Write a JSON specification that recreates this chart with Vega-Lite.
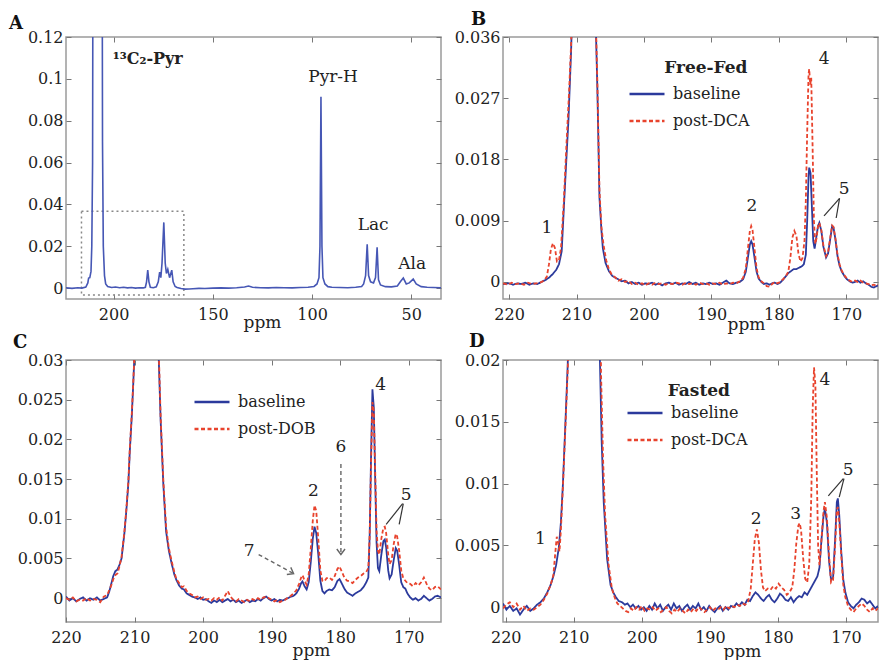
{
"$schema": "https://vega.github.io/schema/vega-lite/v6.json",
"padding": {"left": 8, "top": 10, "right": 0, "bottom": 0},
"background": "white",
"config": {
 "font": "DejaVu Serif",
 "view": {"stroke": "#9a9a9a", "strokeWidth": 1.5},
 "axis": {"grid": false, "domain": false, "tickSize": -5, "tickColor": "#777", "tickWidth": 1, "labelFontSize": 16, "labelColor": "#222", "labelFlush": false, "labelOverlap": false, "titleFontSize": 17, "titleFontWeight": "normal", "titleColor": "#222"},
 "axisX": {"labelPadding": 12},
 "axisY": {"labelPadding": 8},
 "title": {"fontSize": 18, "fontWeight": "bold", "anchor": "start", "frame": "group", "baseline": "alphabetic", "color": "#111"},
 "legend": {"orient": "none", "symbolType": "stroke", "symbolSize": 1225, "symbolStrokeWidth": 2.5, "labelFontSize": 16, "labelColor": "#222", "labelOffset": 7, "rowPadding": -12},
 "text": {"fontSize": 17, "color": "#222"}
},
"datasets": {
 "A": [{"ppm":224,"v":0.0002},{"ppm":221,"v":-0.0001},{"ppm":218,"v":0.0002},{"ppm":216,"v":0},{"ppm":214,"v":0.0005},{"ppm":213,"v":0.0025},{"ppm":212.6,"v":0.0048},{"ppm":212,"v":0.005},{"ppm":211.4,"v":0.008},{"ppm":211,"v":0.02},{"ppm":210.6,"v":0.06},{"ppm":210.2,"v":0.3},{"ppm":206,"v":0.3},{"ppm":205.6,"v":0.07},{"ppm":205.2,"v":0.02},{"ppm":204.6,"v":0.006},{"ppm":204,"v":0.002},{"ppm":203,"v":0.0008},{"ppm":201,"v":0.0003},{"ppm":199,"v":0.0005},{"ppm":197,"v":0.0002},{"ppm":195,"v":0.0004},{"ppm":193,"v":0.0001},{"ppm":191,"v":0.0003},{"ppm":189,"v":0},{"ppm":187,"v":0.0002},{"ppm":185,"v":0.0001},{"ppm":184,"v":0.0004},{"ppm":183.4,"v":0.003},{"ppm":182.8,"v":0.0086},{"ppm":182.2,"v":0.003},{"ppm":181.5,"v":0.0004},{"ppm":180,"v":0.0002},{"ppm":178.5,"v":0.0006},{"ppm":177.5,"v":0.003},{"ppm":176.8,"v":0.0076},{"ppm":176.2,"v":0.005},{"ppm":175.6,"v":0.012},{"ppm":174.7,"v":0.0314},{"ppm":174,"v":0.012},{"ppm":173.4,"v":0.007},{"ppm":172.7,"v":0.009},{"ppm":171.8,"v":0.005},{"ppm":170.7,"v":0.0086},{"ppm":170,"v":0.003},{"ppm":169,"v":0.0008},{"ppm":168,"v":0.0003},{"ppm":166,"v":-0.0002},{"ppm":164,"v":-0.0005},{"ppm":162,"v":-0.0004},{"ppm":160,"v":-0.0003},{"ppm":157,"v":-0.0001},{"ppm":154,"v":-0.0002},{"ppm":150,"v":0},{"ppm":146,"v":0.0001},{"ppm":142,"v":0},{"ppm":138,"v":0.0002},{"ppm":134,"v":0.0005},{"ppm":132,"v":0.001},{"ppm":130,"v":0.0004},{"ppm":126,"v":0.0002},{"ppm":122,"v":0.0001},{"ppm":118,"v":0.0003},{"ppm":114,"v":0.0002},{"ppm":110,"v":0.0001},{"ppm":106,"v":0.0003},{"ppm":102,"v":0.0004},{"ppm":99,"v":0.0008},{"ppm":97.5,"v":0.002},{"ppm":96.5,"v":0.005},{"ppm":96,"v":0.02},{"ppm":95.5,"v":0.0914},{"ppm":95,"v":0.02},{"ppm":94.5,"v":0.005},{"ppm":93.5,"v":0.002},{"ppm":92,"v":0.0007},{"ppm":90,"v":0.0004},{"ppm":86,"v":0.0003},{"ppm":82,"v":0.0002},{"ppm":78,"v":0.0004},{"ppm":75,"v":0.0008},{"ppm":74,"v":0.002},{"ppm":73,"v":0.006},{"ppm":72.2,"v":0.021},{"ppm":71.5,"v":0.006},{"ppm":70.5,"v":0.003},{"ppm":69,"v":0.0025},{"ppm":68,"v":0.005},{"ppm":67.2,"v":0.0195},{"ppm":66.5,"v":0.004},{"ppm":65.5,"v":0.0015},{"ppm":63,"v":0.0007},{"ppm":60,"v":0.0006},{"ppm":57,"v":0.001},{"ppm":55.5,"v":0.003},{"ppm":54,"v":0.0048},{"ppm":52.5,"v":0.002},{"ppm":51,"v":0.0025},{"ppm":49,"v":0.0043},{"ppm":47.5,"v":0.002},{"ppm":45,"v":0.0007},{"ppm":42,"v":0.0004},{"ppm":39,"v":0.0003},{"ppm":35,"v":0.0002}],
 "Ab": [{"ppm":200.5,"v":0.1095,"t":"¹³C₂-Pyr"}],
 "At": [{"ppm":89.4,"v":0.101,"t":"Pyr-H"},{"ppm":69.2,"v":0.030,"t":"Lac"},{"ppm":49.5,"v":0.0114,"t":"Ala"}],
 "B": [
{"ppm":220.9,"v":-0.0003,"s":"baseline"},{"ppm":220,"v":-0.0002,"s":"baseline"},{"ppm":219.4,"v":-0.0004,"s":"baseline"},{"ppm":218.8,"v":-0.0002,"s":"baseline"},{"ppm":218.2,"v":-0.0003,"s":"baseline"},{"ppm":217.6,"v":-0.0001,"s":"baseline"},{"ppm":217,"v":-0.0004,"s":"baseline"},{"ppm":216.4,"v":-0.0002,"s":"baseline"},{"ppm":215.8,"v":-0.0003,"s":"baseline"},{"ppm":215.2,"v":0,"s":"baseline"},{"ppm":214.6,"v":0.0003,"s":"baseline"},{"ppm":214,"v":0.0007,"s":"baseline"},{"ppm":213.5,"v":0.0012,"s":"baseline"},{"ppm":213,"v":0.0018,"s":"baseline"},{"ppm":212.6,"v":0.0026,"s":"baseline"},{"ppm":212.2,"v":0.0045,"s":"baseline"},{"ppm":211.8,"v":0.0124,"s":"baseline"},{"ppm":211.4,"v":0.02,"s":"baseline"},{"ppm":211.2,"v":0.0237,"s":"baseline"},{"ppm":210.8,"v":0.034,"s":"baseline"},{"ppm":210.5,"v":0.045,"s":"baseline"},{"ppm":209.5,"v":0.2,"s":"baseline"},{"ppm":208.5,"v":0.2,"s":"baseline"},{"ppm":207.5,"v":0.06,"s":"baseline"},{"ppm":207.1,"v":0.036,"s":"baseline"},{"ppm":206.9,"v":0.028,"s":"baseline"},{"ppm":206.6,"v":0.0124,"s":"baseline"},{"ppm":206.3,"v":0.0075,"s":"baseline"},{"ppm":206.1,"v":0.005,"s":"baseline"},{"ppm":205.7,"v":0.0028,"s":"baseline"},{"ppm":205.2,"v":0.0016,"s":"baseline"},{"ppm":204.7,"v":0.0009,"s":"baseline"},{"ppm":204.2,"v":0.0006,"s":"baseline"},{"ppm":203.8,"v":0.0004,"s":"baseline"},{"ppm":203.3,"v":0.0001,"s":"baseline"},{"ppm":202.8,"v":0.0002,"s":"baseline"},{"ppm":202.3,"v":-0.0002,"s":"baseline"},{"ppm":201.8,"v":0,"s":"baseline"},{"ppm":201.3,"v":-0.0003,"s":"baseline"},{"ppm":200.8,"v":-0.0001,"s":"baseline"},{"ppm":200.3,"v":-0.0004,"s":"baseline"},{"ppm":199.8,"v":-0.0002,"s":"baseline"},{"ppm":199.3,"v":-0.0003,"s":"baseline"},{"ppm":198.8,"v":-0.0001,"s":"baseline"},{"ppm":198.3,"v":-0.0004,"s":"baseline"},{"ppm":197.8,"v":-0.0002,"s":"baseline"},{"ppm":197.3,"v":-0.0005,"s":"baseline"},{"ppm":196.8,"v":-0.0002,"s":"baseline"},{"ppm":196.3,"v":-0.0001,"s":"baseline"},{"ppm":195.8,"v":-0.0003,"s":"baseline"},{"ppm":195.3,"v":-0.0001,"s":"baseline"},{"ppm":194.8,"v":-0.0004,"s":"baseline"},{"ppm":194.3,"v":-0.0002,"s":"baseline"},{"ppm":193.8,"v":-0.0003,"s":"baseline"},{"ppm":193.3,"v":0,"s":"baseline"},{"ppm":192.8,"v":-0.0003,"s":"baseline"},{"ppm":192.3,"v":-0.0001,"s":"baseline"},{"ppm":191.8,"v":-0.0004,"s":"baseline"},{"ppm":191.3,"v":-0.0002,"s":"baseline"},{"ppm":190.8,"v":-0.0003,"s":"baseline"},{"ppm":190.3,"v":-0.0001,"s":"baseline"},{"ppm":189.8,"v":-0.0003,"s":"baseline"},{"ppm":189.3,"v":-0.0002,"s":"baseline"},{"ppm":188.8,"v":-0.0004,"s":"baseline"},{"ppm":188.3,"v":-0.0001,"s":"baseline"},{"ppm":187.8,"v":0.0002,"s":"baseline"},{"ppm":187.3,"v":-0.0002,"s":"baseline"},{"ppm":186.8,"v":-0.0003,"s":"baseline"},{"ppm":186.3,"v":-0.0001,"s":"baseline"},{"ppm":185.8,"v":0,"s":"baseline"},{"ppm":185.3,"v":0.0004,"s":"baseline"},{"ppm":184.9,"v":0.0015,"s":"baseline"},{"ppm":184.6,"v":0.0035,"s":"baseline"},{"ppm":184.3,"v":0.0055,"s":"baseline"},{"ppm":184.1,"v":0.006,"s":"baseline"},{"ppm":183.9,"v":0.0055,"s":"baseline"},{"ppm":183.6,"v":0.0035,"s":"baseline"},{"ppm":183.3,"v":0.0015,"s":"baseline"},{"ppm":183,"v":0.0005,"s":"baseline"},{"ppm":182.6,"v":0,"s":"baseline"},{"ppm":182.2,"v":-0.0003,"s":"baseline"},{"ppm":181.8,"v":-0.0002,"s":"baseline"},{"ppm":181.4,"v":-0.0004,"s":"baseline"},{"ppm":181,"v":-0.0002,"s":"baseline"},{"ppm":180.6,"v":-0.0001,"s":"baseline"},{"ppm":180.2,"v":-0.0003,"s":"baseline"},{"ppm":179.8,"v":-0.0001,"s":"baseline"},{"ppm":179.4,"v":0.0003,"s":"baseline"},{"ppm":179,"v":0.0008,"s":"baseline"},{"ppm":178.6,"v":0.0013,"s":"baseline"},{"ppm":178.2,"v":0.0016,"s":"baseline"},{"ppm":177.8,"v":0.0019,"s":"baseline"},{"ppm":177.4,"v":0.0019,"s":"baseline"},{"ppm":177,"v":0.0021,"s":"baseline"},{"ppm":176.6,"v":0.0023,"s":"baseline"},{"ppm":176.3,"v":0.0026,"s":"baseline"},{"ppm":176,"v":0.004,"s":"baseline"},{"ppm":175.8,"v":0.009,"s":"baseline"},{"ppm":175.6,"v":0.0155,"s":"baseline"},{"ppm":175.5,"v":0.0168,"s":"baseline"},{"ppm":175.3,"v":0.016,"s":"baseline"},{"ppm":175.1,"v":0.011,"s":"baseline"},{"ppm":174.9,"v":0.006,"s":"baseline"},{"ppm":174.7,"v":0.0049,"s":"baseline"},{"ppm":174.5,"v":0.0062,"s":"baseline"},{"ppm":174.2,"v":0.0082,"s":"baseline"},{"ppm":174,"v":0.0087,"s":"baseline"},{"ppm":173.7,"v":0.0075,"s":"baseline"},{"ppm":173.4,"v":0.0052,"s":"baseline"},{"ppm":173,"v":0.0036,"s":"baseline"},{"ppm":172.7,"v":0.0042,"s":"baseline"},{"ppm":172.4,"v":0.0062,"s":"baseline"},{"ppm":172.1,"v":0.0082,"s":"baseline"},{"ppm":171.9,"v":0.008,"s":"baseline"},{"ppm":171.6,"v":0.0062,"s":"baseline"},{"ppm":171.3,"v":0.0038,"s":"baseline"},{"ppm":171,"v":0.0024,"s":"baseline"},{"ppm":170.7,"v":0.0016,"s":"baseline"},{"ppm":170.3,"v":0.0009,"s":"baseline"},{"ppm":169.9,"v":0.0004,"s":"baseline"},{"ppm":169.5,"v":0.0001,"s":"baseline"},{"ppm":169.1,"v":-0.0001,"s":"baseline"},{"ppm":168.7,"v":0,"s":"baseline"},{"ppm":168.3,"v":0.0002,"s":"baseline"},{"ppm":167.9,"v":-0.0001,"s":"baseline"},{"ppm":167.5,"v":0.0001,"s":"baseline"},{"ppm":167.1,"v":-0.0002,"s":"baseline"},{"ppm":166.7,"v":-0.0004,"s":"baseline"},{"ppm":166.3,"v":-0.0007,"s":"baseline"},{"ppm":165.9,"v":-0.0008,"s":"baseline"},{"ppm":165.5,"v":-0.0006,"s":"baseline"},{"ppm":165.2,"v":-0.0005,"s":"baseline"},
{"ppm":220.9,"v":-0.0002,"s":"post-DCA"},{"ppm":220.2,"v":-0.0004,"s":"post-DCA"},{"ppm":219.6,"v":-0.0001,"s":"post-DCA"},{"ppm":219,"v":-0.0003,"s":"post-DCA"},{"ppm":218.4,"v":-0.0002,"s":"post-DCA"},{"ppm":217.8,"v":-0.0004,"s":"post-DCA"},{"ppm":217.2,"v":-0.0001,"s":"post-DCA"},{"ppm":216.6,"v":-0.0003,"s":"post-DCA"},{"ppm":216,"v":-0.0002,"s":"post-DCA"},{"ppm":215.4,"v":-0.0001,"s":"post-DCA"},{"ppm":214.8,"v":0.0002,"s":"post-DCA"},{"ppm":214.4,"v":0.0008,"s":"post-DCA"},{"ppm":214.1,"v":0.0025,"s":"post-DCA"},{"ppm":213.8,"v":0.0048,"s":"post-DCA"},{"ppm":213.5,"v":0.0057,"s":"post-DCA"},{"ppm":213.2,"v":0.005,"s":"post-DCA"},{"ppm":212.9,"v":0.003,"s":"post-DCA"},{"ppm":212.6,"v":0.0032,"s":"post-DCA"},{"ppm":212.3,"v":0.005,"s":"post-DCA"},{"ppm":211.9,"v":0.0115,"s":"post-DCA"},{"ppm":211.5,"v":0.02,"s":"post-DCA"},{"ppm":211.1,"v":0.028,"s":"post-DCA"},{"ppm":210.8,"v":0.035,"s":"post-DCA"},{"ppm":210.5,"v":0.045,"s":"post-DCA"},{"ppm":209.5,"v":0.2,"s":"post-DCA"},{"ppm":208.5,"v":0.2,"s":"post-DCA"},{"ppm":207.5,"v":0.06,"s":"post-DCA"},{"ppm":207.1,"v":0.037,"s":"post-DCA"},{"ppm":206.9,"v":0.029,"s":"post-DCA"},{"ppm":206.6,"v":0.0135,"s":"post-DCA"},{"ppm":206.3,"v":0.008,"s":"post-DCA"},{"ppm":206,"v":0.0055,"s":"post-DCA"},{"ppm":205.6,"v":0.0032,"s":"post-DCA"},{"ppm":205.2,"v":0.0019,"s":"post-DCA"},{"ppm":204.8,"v":0.0011,"s":"post-DCA"},{"ppm":204.3,"v":0.0007,"s":"post-DCA"},{"ppm":203.8,"v":0.0002,"s":"post-DCA"},{"ppm":203.3,"v":0.0004,"s":"post-DCA"},{"ppm":202.8,"v":0,"s":"post-DCA"},{"ppm":202.3,"v":0.0002,"s":"post-DCA"},{"ppm":201.8,"v":-0.0003,"s":"post-DCA"},{"ppm":201.3,"v":-0.0001,"s":"post-DCA"},{"ppm":200.8,"v":-0.0004,"s":"post-DCA"},{"ppm":200.3,"v":-0.0002,"s":"post-DCA"},{"ppm":199.8,"v":-0.0005,"s":"post-DCA"},{"ppm":199.3,"v":-0.0002,"s":"post-DCA"},{"ppm":198.8,"v":-0.0004,"s":"post-DCA"},{"ppm":198.3,"v":-0.0001,"s":"post-DCA"},{"ppm":197.8,"v":-0.0003,"s":"post-DCA"},{"ppm":197.3,"v":-0.0002,"s":"post-DCA"},{"ppm":196.8,"v":-0.0004,"s":"post-DCA"},{"ppm":196.3,"v":-0.0002,"s":"post-DCA"},{"ppm":195.8,"v":-0.0003,"s":"post-DCA"},{"ppm":195.3,"v":-0.0001,"s":"post-DCA"},{"ppm":194.8,"v":-0.0002,"s":"post-DCA"},{"ppm":194.3,"v":-0.0004,"s":"post-DCA"},{"ppm":193.8,"v":-0.0001,"s":"post-DCA"},{"ppm":193.3,"v":-0.0003,"s":"post-DCA"},{"ppm":192.8,"v":-0.0002,"s":"post-DCA"},{"ppm":192.3,"v":-0.0004,"s":"post-DCA"},{"ppm":191.8,"v":-0.0001,"s":"post-DCA"},{"ppm":191.3,"v":-0.0003,"s":"post-DCA"},{"ppm":190.8,"v":-0.0002,"s":"post-DCA"},{"ppm":190.3,"v":-0.0004,"s":"post-DCA"},{"ppm":189.8,"v":-0.0002,"s":"post-DCA"},{"ppm":189.3,"v":-0.0003,"s":"post-DCA"},{"ppm":188.8,"v":-0.0001,"s":"post-DCA"},{"ppm":188.3,"v":-0.0004,"s":"post-DCA"},{"ppm":187.8,"v":-0.0002,"s":"post-DCA"},{"ppm":187.3,"v":-0.0003,"s":"post-DCA"},{"ppm":186.8,"v":-0.0001,"s":"post-DCA"},{"ppm":186.3,"v":-0.0002,"s":"post-DCA"},{"ppm":185.8,"v":0.0001,"s":"post-DCA"},{"ppm":185.3,"v":0.0006,"s":"post-DCA"},{"ppm":184.9,"v":0.002,"s":"post-DCA"},{"ppm":184.6,"v":0.0048,"s":"post-DCA"},{"ppm":184.3,"v":0.0075,"s":"post-DCA"},{"ppm":184.1,"v":0.0082,"s":"post-DCA"},{"ppm":183.9,"v":0.0076,"s":"post-DCA"},{"ppm":183.6,"v":0.0048,"s":"post-DCA"},{"ppm":183.3,"v":0.002,"s":"post-DCA"},{"ppm":183,"v":0.0007,"s":"post-DCA"},{"ppm":182.6,"v":0.0001,"s":"post-DCA"},{"ppm":182.2,"v":-0.0002,"s":"post-DCA"},{"ppm":181.8,"v":-0.0006,"s":"post-DCA"},{"ppm":181.4,"v":-0.0007,"s":"post-DCA"},{"ppm":181,"v":-0.0003,"s":"post-DCA"},{"ppm":180.6,"v":0,"s":"post-DCA"},{"ppm":180.2,"v":-0.0002,"s":"post-DCA"},{"ppm":179.8,"v":0,"s":"post-DCA"},{"ppm":179.4,"v":0.0004,"s":"post-DCA"},{"ppm":179,"v":0.0008,"s":"post-DCA"},{"ppm":178.6,"v":0.0015,"s":"post-DCA"},{"ppm":178.3,"v":0.0035,"s":"post-DCA"},{"ppm":178,"v":0.0065,"s":"post-DCA"},{"ppm":177.7,"v":0.0075,"s":"post-DCA"},{"ppm":177.4,"v":0.0068,"s":"post-DCA"},{"ppm":177.1,"v":0.0042,"s":"post-DCA"},{"ppm":176.8,"v":0.003,"s":"post-DCA"},{"ppm":176.5,"v":0.0035,"s":"post-DCA"},{"ppm":176.2,"v":0.006,"s":"post-DCA"},{"ppm":176,"v":0.012,"s":"post-DCA"},{"ppm":175.8,"v":0.022,"s":"post-DCA"},{"ppm":175.6,"v":0.0305,"s":"post-DCA"},{"ppm":175.5,"v":0.0313,"s":"post-DCA"},{"ppm":175.35,"v":0.029,"s":"post-DCA"},{"ppm":175.2,"v":0.03,"s":"post-DCA"},{"ppm":175,"v":0.02,"s":"post-DCA"},{"ppm":174.8,"v":0.009,"s":"post-DCA"},{"ppm":174.6,"v":0.0056,"s":"post-DCA"},{"ppm":174.4,"v":0.0065,"s":"post-DCA"},{"ppm":174.2,"v":0.0082,"s":"post-DCA"},{"ppm":174,"v":0.0087,"s":"post-DCA"},{"ppm":173.7,"v":0.0076,"s":"post-DCA"},{"ppm":173.4,"v":0.0054,"s":"post-DCA"},{"ppm":173,"v":0.0038,"s":"post-DCA"},{"ppm":172.7,"v":0.0044,"s":"post-DCA"},{"ppm":172.4,"v":0.0064,"s":"post-DCA"},{"ppm":172.1,"v":0.0083,"s":"post-DCA"},{"ppm":171.9,"v":0.0081,"s":"post-DCA"},{"ppm":171.6,"v":0.0063,"s":"post-DCA"},{"ppm":171.3,"v":0.004,"s":"post-DCA"},{"ppm":171,"v":0.0026,"s":"post-DCA"},{"ppm":170.7,"v":0.0017,"s":"post-DCA"},{"ppm":170.3,"v":0.001,"s":"post-DCA"},{"ppm":169.9,"v":0.0005,"s":"post-DCA"},{"ppm":169.5,"v":0.0002,"s":"post-DCA"},{"ppm":169.1,"v":0,"s":"post-DCA"},{"ppm":168.7,"v":0.0002,"s":"post-DCA"},{"ppm":168.3,"v":0,"s":"post-DCA"},{"ppm":167.9,"v":0.0002,"s":"post-DCA"},{"ppm":167.5,"v":-0.0001,"s":"post-DCA"},{"ppm":167.1,"v":-0.0002,"s":"post-DCA"},{"ppm":166.7,"v":-0.0003,"s":"post-DCA"},{"ppm":166.3,"v":-0.0005,"s":"post-DCA"},{"ppm":165.9,"v":-0.0004,"s":"post-DCA"},{"ppm":165.5,"v":-0.0006,"s":"post-DCA"},{"ppm":165.2,"v":-0.0004,"s":"post-DCA"}],
 "Bt": [{"ppm":214.4,"v":0.0079,"t":"1"},{"ppm":184.0,"v":0.0112,"t":"2"},{"ppm":173.3,"v":0.0328,"t":"4"},{"ppm":170.3,"v":0.0137,"t":"5"}],
 "Bl": [{"ppm":171.0,"v":0.0123,"ppm2":173.3,"v2":0.0097},{"ppm":171.0,"v":0.0123,"ppm2":171.5,"v2":0.0094}],
 "Bh": [{"ppm":197.0,"v":0.0314,"t":"Free-Fed"}],
 "C": [
{"ppm":220,"v":0.0002,"s":"baseline"},{"ppm":219.5,"v":-0.0003,"s":"baseline"},{"ppm":219,"v":0,"s":"baseline"},{"ppm":218.5,"v":-0.0004,"s":"baseline"},{"ppm":218,"v":-0.0001,"s":"baseline"},{"ppm":217.5,"v":0.0001,"s":"baseline"},{"ppm":217,"v":-0.0003,"s":"baseline"},{"ppm":216.5,"v":0,"s":"baseline"},{"ppm":216,"v":-0.0002,"s":"baseline"},{"ppm":215.5,"v":0.0001,"s":"baseline"},{"ppm":215,"v":-0.0003,"s":"baseline"},{"ppm":214.5,"v":-0.0001,"s":"baseline"},{"ppm":214,"v":0.0001,"s":"baseline"},{"ppm":213.7,"v":0.0008,"s":"baseline"},{"ppm":213.4,"v":0.0018,"s":"baseline"},{"ppm":213.1,"v":0.0028,"s":"baseline"},{"ppm":212.8,"v":0.0034,"s":"baseline"},{"ppm":212.5,"v":0.0036,"s":"baseline"},{"ppm":212.2,"v":0.0042,"s":"baseline"},{"ppm":211.9,"v":0.005,"s":"baseline"},{"ppm":211.5,"v":0.008,"s":"baseline"},{"ppm":211.2,"v":0.011,"s":"baseline"},{"ppm":210.9,"v":0.0145,"s":"baseline"},{"ppm":210.7,"v":0.0184,"s":"baseline"},{"ppm":210.4,"v":0.023,"s":"baseline"},{"ppm":210.2,"v":0.0268,"s":"baseline"},{"ppm":209.9,"v":0.033,"s":"baseline"},{"ppm":209.5,"v":0.06,"s":"baseline"},{"ppm":208.5,"v":0.2,"s":"baseline"},{"ppm":207.5,"v":0.2,"s":"baseline"},{"ppm":206.8,"v":0.05,"s":"baseline"},{"ppm":206.5,"v":0.031,"s":"baseline"},{"ppm":206.2,"v":0.0225,"s":"baseline"},{"ppm":205.8,"v":0.0143,"s":"baseline"},{"ppm":205.4,"v":0.0084,"s":"baseline"},{"ppm":205,"v":0.006,"s":"baseline"},{"ppm":204.6,"v":0.0044,"s":"baseline"},{"ppm":204.2,"v":0.003,"s":"baseline"},{"ppm":203.9,"v":0.0023,"s":"baseline"},{"ppm":203.5,"v":0.0016,"s":"baseline"},{"ppm":203.1,"v":0.0012,"s":"baseline"},{"ppm":202.8,"v":0.0011,"s":"baseline"},{"ppm":202.4,"v":0.0006,"s":"baseline"},{"ppm":202,"v":0.0004,"s":"baseline"},{"ppm":201.6,"v":0.0002,"s":"baseline"},{"ppm":201.2,"v":0.0001,"s":"baseline"},{"ppm":200.8,"v":-0.0001,"s":"baseline"},{"ppm":200.4,"v":0.0001,"s":"baseline"},{"ppm":200,"v":-0.0002,"s":"baseline"},{"ppm":199.6,"v":-0.0001,"s":"baseline"},{"ppm":199.2,"v":-0.0004,"s":"baseline"},{"ppm":198.8,"v":-0.0006,"s":"baseline"},{"ppm":198.4,"v":-0.0003,"s":"baseline"},{"ppm":198,"v":-0.0005,"s":"baseline"},{"ppm":197.6,"v":-0.0002,"s":"baseline"},{"ppm":197.2,"v":-0.0005,"s":"baseline"},{"ppm":196.8,"v":-0.0003,"s":"baseline"},{"ppm":196.4,"v":-0.0001,"s":"baseline"},{"ppm":196,"v":-0.0004,"s":"baseline"},{"ppm":195.6,"v":-0.0002,"s":"baseline"},{"ppm":195.2,"v":-0.0005,"s":"baseline"},{"ppm":194.8,"v":-0.0003,"s":"baseline"},{"ppm":194.4,"v":-0.0006,"s":"baseline"},{"ppm":194,"v":-0.0004,"s":"baseline"},{"ppm":193.6,"v":-0.0002,"s":"baseline"},{"ppm":193.2,"v":-0.0005,"s":"baseline"},{"ppm":192.8,"v":-0.0003,"s":"baseline"},{"ppm":192.4,"v":-0.0004,"s":"baseline"},{"ppm":192,"v":-0.0001,"s":"baseline"},{"ppm":191.6,"v":-0.0003,"s":"baseline"},{"ppm":191.2,"v":0,"s":"baseline"},{"ppm":190.8,"v":0.0002,"s":"baseline"},{"ppm":190.4,"v":-0.0001,"s":"baseline"},{"ppm":190,"v":-0.0003,"s":"baseline"},{"ppm":189.6,"v":-0.0001,"s":"baseline"},{"ppm":189.2,"v":-0.0004,"s":"baseline"},{"ppm":188.8,"v":-0.0002,"s":"baseline"},{"ppm":188.4,"v":-0.0003,"s":"baseline"},{"ppm":188,"v":-0.0001,"s":"baseline"},{"ppm":187.6,"v":0,"s":"baseline"},{"ppm":187.2,"v":0.0002,"s":"baseline"},{"ppm":186.8,"v":0.0003,"s":"baseline"},{"ppm":186.4,"v":0.0006,"s":"baseline"},{"ppm":186,"v":0.0012,"s":"baseline"},{"ppm":185.7,"v":0.0019,"s":"baseline"},{"ppm":185.5,"v":0.0021,"s":"baseline"},{"ppm":185.2,"v":0.0015,"s":"baseline"},{"ppm":184.9,"v":0.0011,"s":"baseline"},{"ppm":184.6,"v":0.002,"s":"baseline"},{"ppm":184.3,"v":0.0045,"s":"baseline"},{"ppm":184,"v":0.0075,"s":"baseline"},{"ppm":183.75,"v":0.009,"s":"baseline"},{"ppm":183.5,"v":0.0082,"s":"baseline"},{"ppm":183.2,"v":0.0055,"s":"baseline"},{"ppm":182.9,"v":0.0022,"s":"baseline"},{"ppm":182.6,"v":0.0009,"s":"baseline"},{"ppm":182.3,"v":0.0006,"s":"baseline"},{"ppm":182,"v":0.0009,"s":"baseline"},{"ppm":181.6,"v":0.0011,"s":"baseline"},{"ppm":181.2,"v":0.001,"s":"baseline"},{"ppm":180.8,"v":0.0014,"s":"baseline"},{"ppm":180.4,"v":0.0022,"s":"baseline"},{"ppm":180.1,"v":0.0024,"s":"baseline"},{"ppm":179.8,"v":0.0019,"s":"baseline"},{"ppm":179.4,"v":0.0012,"s":"baseline"},{"ppm":179,"v":0.0007,"s":"baseline"},{"ppm":178.6,"v":0.0005,"s":"baseline"},{"ppm":178.2,"v":0.0003,"s":"baseline"},{"ppm":177.8,"v":0.0006,"s":"baseline"},{"ppm":177.4,"v":0.0008,"s":"baseline"},{"ppm":177,"v":0.001,"s":"baseline"},{"ppm":176.6,"v":0.0014,"s":"baseline"},{"ppm":176.2,"v":0.002,"s":"baseline"},{"ppm":175.9,"v":0.0026,"s":"baseline"},{"ppm":175.7,"v":0.008,"s":"baseline"},{"ppm":175.5,"v":0.018,"s":"baseline"},{"ppm":175.3,"v":0.0263,"s":"baseline"},{"ppm":175.1,"v":0.024,"s":"baseline"},{"ppm":174.9,"v":0.015,"s":"baseline"},{"ppm":174.7,"v":0.007,"s":"baseline"},{"ppm":174.5,"v":0.0038,"s":"baseline"},{"ppm":174.3,"v":0.0034,"s":"baseline"},{"ppm":174,"v":0.0055,"s":"baseline"},{"ppm":173.7,"v":0.0072,"s":"baseline"},{"ppm":173.5,"v":0.0074,"s":"baseline"},{"ppm":173.3,"v":0.0064,"s":"baseline"},{"ppm":173,"v":0.0035,"s":"baseline"},{"ppm":172.8,"v":0.0025,"s":"baseline"},{"ppm":172.5,"v":0.003,"s":"baseline"},{"ppm":172.2,"v":0.0048,"s":"baseline"},{"ppm":171.9,"v":0.0063,"s":"baseline"},{"ppm":171.7,"v":0.006,"s":"baseline"},{"ppm":171.4,"v":0.0042,"s":"baseline"},{"ppm":171.1,"v":0.002,"s":"baseline"},{"ppm":170.8,"v":0.0014,"s":"baseline"},{"ppm":170.5,"v":0.0012,"s":"baseline"},{"ppm":170.2,"v":0.0006,"s":"baseline"},{"ppm":169.8,"v":0.0001,"s":"baseline"},{"ppm":169.4,"v":-0.0002,"s":"baseline"},{"ppm":169,"v":0,"s":"baseline"},{"ppm":168.6,"v":-0.0003,"s":"baseline"},{"ppm":168.2,"v":-0.0001,"s":"baseline"},{"ppm":167.8,"v":0.0003,"s":"baseline"},{"ppm":167.4,"v":0,"s":"baseline"},{"ppm":167,"v":-0.0003,"s":"baseline"},{"ppm":166.6,"v":-0.0001,"s":"baseline"},{"ppm":166.2,"v":0.0002,"s":"baseline"},{"ppm":165.8,"v":0.0003,"s":"baseline"},{"ppm":165.3,"v":0.0001,"s":"baseline"},
{"ppm":220,"v":0,"s":"post-DOB"},{"ppm":219.5,"v":-0.0002,"s":"post-DOB"},{"ppm":219,"v":0.0001,"s":"post-DOB"},{"ppm":218.5,"v":-0.0004,"s":"post-DOB"},{"ppm":218,"v":-0.0002,"s":"post-DOB"},{"ppm":217.5,"v":-0.0003,"s":"post-DOB"},{"ppm":217,"v":0,"s":"post-DOB"},{"ppm":216.5,"v":-0.0003,"s":"post-DOB"},{"ppm":216,"v":-0.0001,"s":"post-DOB"},{"ppm":215.5,"v":-0.0002,"s":"post-DOB"},{"ppm":215,"v":-0.0005,"s":"post-DOB"},{"ppm":214.5,"v":0.0002,"s":"post-DOB"},{"ppm":214,"v":0.0004,"s":"post-DOB"},{"ppm":213.7,"v":0.001,"s":"post-DOB"},{"ppm":213.4,"v":0.0016,"s":"post-DOB"},{"ppm":213.1,"v":0.0024,"s":"post-DOB"},{"ppm":212.8,"v":0.0029,"s":"post-DOB"},{"ppm":212.5,"v":0.0031,"s":"post-DOB"},{"ppm":212.2,"v":0.004,"s":"post-DOB"},{"ppm":211.9,"v":0.0052,"s":"post-DOB"},{"ppm":211.5,"v":0.0082,"s":"post-DOB"},{"ppm":211.2,"v":0.0112,"s":"post-DOB"},{"ppm":210.9,"v":0.0148,"s":"post-DOB"},{"ppm":210.7,"v":0.0187,"s":"post-DOB"},{"ppm":210.4,"v":0.0233,"s":"post-DOB"},{"ppm":210.2,"v":0.027,"s":"post-DOB"},{"ppm":209.9,"v":0.033,"s":"post-DOB"},{"ppm":209.5,"v":0.06,"s":"post-DOB"},{"ppm":208.5,"v":0.2,"s":"post-DOB"},{"ppm":207.5,"v":0.2,"s":"post-DOB"},{"ppm":206.8,"v":0.05,"s":"post-DOB"},{"ppm":206.5,"v":0.032,"s":"post-DOB"},{"ppm":206.2,"v":0.023,"s":"post-DOB"},{"ppm":205.8,"v":0.0148,"s":"post-DOB"},{"ppm":205.4,"v":0.009,"s":"post-DOB"},{"ppm":205,"v":0.0063,"s":"post-DOB"},{"ppm":204.6,"v":0.0047,"s":"post-DOB"},{"ppm":204.2,"v":0.0033,"s":"post-DOB"},{"ppm":203.9,"v":0.0024,"s":"post-DOB"},{"ppm":203.5,"v":0.0019,"s":"post-DOB"},{"ppm":203.1,"v":0.0014,"s":"post-DOB"},{"ppm":202.8,"v":0.0015,"s":"post-DOB"},{"ppm":202.4,"v":0.0009,"s":"post-DOB"},{"ppm":202,"v":0.0006,"s":"post-DOB"},{"ppm":201.6,"v":0.0004,"s":"post-DOB"},{"ppm":201.2,"v":0.0001,"s":"post-DOB"},{"ppm":200.8,"v":0.0002,"s":"post-DOB"},{"ppm":200.4,"v":-0.0001,"s":"post-DOB"},{"ppm":200,"v":0.0001,"s":"post-DOB"},{"ppm":199.6,"v":-0.0002,"s":"post-DOB"},{"ppm":199.2,"v":-0.0001,"s":"post-DOB"},{"ppm":198.8,"v":-0.0003,"s":"post-DOB"},{"ppm":198.4,"v":0,"s":"post-DOB"},{"ppm":198,"v":-0.0002,"s":"post-DOB"},{"ppm":197.6,"v":0.0001,"s":"post-DOB"},{"ppm":197.2,"v":-0.0003,"s":"post-DOB"},{"ppm":196.8,"v":0.0003,"s":"post-DOB"},{"ppm":196.4,"v":0.0009,"s":"post-DOB"},{"ppm":196,"v":0.0002,"s":"post-DOB"},{"ppm":195.6,"v":-0.0002,"s":"post-DOB"},{"ppm":195.2,"v":-0.0004,"s":"post-DOB"},{"ppm":194.8,"v":-0.0001,"s":"post-DOB"},{"ppm":194.4,"v":-0.0003,"s":"post-DOB"},{"ppm":194,"v":-0.0005,"s":"post-DOB"},{"ppm":193.6,"v":-0.0002,"s":"post-DOB"},{"ppm":193.2,"v":-0.0004,"s":"post-DOB"},{"ppm":192.8,"v":-0.0001,"s":"post-DOB"},{"ppm":192.4,"v":-0.0003,"s":"post-DOB"},{"ppm":192,"v":0,"s":"post-DOB"},{"ppm":191.6,"v":-0.0002,"s":"post-DOB"},{"ppm":191.2,"v":0.0001,"s":"post-DOB"},{"ppm":190.8,"v":0.0002,"s":"post-DOB"},{"ppm":190.4,"v":0,"s":"post-DOB"},{"ppm":190,"v":-0.0002,"s":"post-DOB"},{"ppm":189.6,"v":-0.0004,"s":"post-DOB"},{"ppm":189.2,"v":-0.0002,"s":"post-DOB"},{"ppm":188.8,"v":-0.0005,"s":"post-DOB"},{"ppm":188.4,"v":-0.0003,"s":"post-DOB"},{"ppm":188,"v":-0.0002,"s":"post-DOB"},{"ppm":187.6,"v":0.0001,"s":"post-DOB"},{"ppm":187.2,"v":0.0003,"s":"post-DOB"},{"ppm":186.8,"v":0.0006,"s":"post-DOB"},{"ppm":186.4,"v":0.001,"s":"post-DOB"},{"ppm":186,"v":0.0018,"s":"post-DOB"},{"ppm":185.7,"v":0.0026,"s":"post-DOB"},{"ppm":185.5,"v":0.0029,"s":"post-DOB"},{"ppm":185.2,"v":0.0022,"s":"post-DOB"},{"ppm":184.9,"v":0.0017,"s":"post-DOB"},{"ppm":184.6,"v":0.003,"s":"post-DOB"},{"ppm":184.3,"v":0.0062,"s":"post-DOB"},{"ppm":184,"v":0.0098,"s":"post-DOB"},{"ppm":183.75,"v":0.0117,"s":"post-DOB"},{"ppm":183.5,"v":0.011,"s":"post-DOB"},{"ppm":183.2,"v":0.0075,"s":"post-DOB"},{"ppm":182.9,"v":0.0035,"s":"post-DOB"},{"ppm":182.6,"v":0.0022,"s":"post-DOB"},{"ppm":182.3,"v":0.0021,"s":"post-DOB"},{"ppm":182,"v":0.0025,"s":"post-DOB"},{"ppm":181.6,"v":0.0026,"s":"post-DOB"},{"ppm":181.2,"v":0.0023,"s":"post-DOB"},{"ppm":180.8,"v":0.0028,"s":"post-DOB"},{"ppm":180.4,"v":0.0037,"s":"post-DOB"},{"ppm":180.1,"v":0.004,"s":"post-DOB"},{"ppm":179.8,"v":0.0034,"s":"post-DOB"},{"ppm":179.4,"v":0.0026,"s":"post-DOB"},{"ppm":179,"v":0.0022,"s":"post-DOB"},{"ppm":178.6,"v":0.0021,"s":"post-DOB"},{"ppm":178.2,"v":0.0019,"s":"post-DOB"},{"ppm":177.8,"v":0.0023,"s":"post-DOB"},{"ppm":177.4,"v":0.0026,"s":"post-DOB"},{"ppm":177,"v":0.0028,"s":"post-DOB"},{"ppm":176.6,"v":0.0031,"s":"post-DOB"},{"ppm":176.2,"v":0.0033,"s":"post-DOB"},{"ppm":175.9,"v":0.0038,"s":"post-DOB"},{"ppm":175.7,"v":0.008,"s":"post-DOB"},{"ppm":175.5,"v":0.017,"s":"post-DOB"},{"ppm":175.3,"v":0.0247,"s":"post-DOB"},{"ppm":175.1,"v":0.0235,"s":"post-DOB"},{"ppm":174.9,"v":0.016,"s":"post-DOB"},{"ppm":174.7,"v":0.0085,"s":"post-DOB"},{"ppm":174.5,"v":0.006,"s":"post-DOB"},{"ppm":174.3,"v":0.0055,"s":"post-DOB"},{"ppm":174,"v":0.0075,"s":"post-DOB"},{"ppm":173.7,"v":0.0089,"s":"post-DOB"},{"ppm":173.5,"v":0.009,"s":"post-DOB"},{"ppm":173.3,"v":0.0082,"s":"post-DOB"},{"ppm":173,"v":0.0055,"s":"post-DOB"},{"ppm":172.8,"v":0.0043,"s":"post-DOB"},{"ppm":172.5,"v":0.0048,"s":"post-DOB"},{"ppm":172.2,"v":0.0068,"s":"post-DOB"},{"ppm":171.9,"v":0.0081,"s":"post-DOB"},{"ppm":171.7,"v":0.0078,"s":"post-DOB"},{"ppm":171.4,"v":0.006,"s":"post-DOB"},{"ppm":171.1,"v":0.0035,"s":"post-DOB"},{"ppm":170.8,"v":0.0025,"s":"post-DOB"},{"ppm":170.5,"v":0.0022,"s":"post-DOB"},{"ppm":170.2,"v":0.0019,"s":"post-DOB"},{"ppm":169.8,"v":0.0018,"s":"post-DOB"},{"ppm":169.4,"v":0.0015,"s":"post-DOB"},{"ppm":169,"v":0.0019,"s":"post-DOB"},{"ppm":168.6,"v":0.0016,"s":"post-DOB"},{"ppm":168.2,"v":0.002,"s":"post-DOB"},{"ppm":167.8,"v":0.0026,"s":"post-DOB"},{"ppm":167.4,"v":0.0018,"s":"post-DOB"},{"ppm":167,"v":0.0012,"s":"post-DOB"},{"ppm":166.6,"v":0.001,"s":"post-DOB"},{"ppm":166.2,"v":0.0014,"s":"post-DOB"},{"ppm":165.8,"v":0.0015,"s":"post-DOB"},{"ppm":165.3,"v":0.0011,"s":"post-DOB"}],
 "Ct": [{"ppm":183.9,"v":0.0135,"t":"2"},{"ppm":174.1,"v":0.0268,"t":"4"},{"ppm":170.4,"v":0.013,"t":"5"},{"ppm":179.9,"v":0.019,"t":"6"},{"ppm":193.3,"v":0.0059,"t":"7"}],
 "Cl": [{"ppm":170.9,"v":0.0119,"ppm2":173.3,"v2":0.0093},{"ppm":170.8,"v":0.0119,"ppm2":171.4,"v2":0.0093}],
 "Ca": [{"ppm":179.9,"v":0.0169,"ppm2":179.9,"v2":0.0055},{"ppm":191.9,"v":0.0055,"ppm2":186.8,"v2":0.0031}],
 "D": [
{"ppm":220.4,"v":0.0003,"s":"baseline"},{"ppm":219.9,"v":-0.0002,"s":"baseline"},{"ppm":219.4,"v":0.0001,"s":"baseline"},{"ppm":218.9,"v":-0.0003,"s":"baseline"},{"ppm":218.4,"v":-0.0001,"s":"baseline"},{"ppm":217.9,"v":-0.0006,"s":"baseline"},{"ppm":217.4,"v":-0.0002,"s":"baseline"},{"ppm":216.9,"v":0.0001,"s":"baseline"},{"ppm":216.4,"v":-0.0003,"s":"baseline"},{"ppm":215.9,"v":-0.0001,"s":"baseline"},{"ppm":215.4,"v":0.0002,"s":"baseline"},{"ppm":214.9,"v":0.0004,"s":"baseline"},{"ppm":214.4,"v":0.0007,"s":"baseline"},{"ppm":213.9,"v":0.0012,"s":"baseline"},{"ppm":213.4,"v":0.0018,"s":"baseline"},{"ppm":213,"v":0.0025,"s":"baseline"},{"ppm":212.6,"v":0.0034,"s":"baseline"},{"ppm":212.2,"v":0.0048,"s":"baseline"},{"ppm":211.9,"v":0.0068,"s":"baseline"},{"ppm":211.6,"v":0.0099,"s":"baseline"},{"ppm":211.2,"v":0.0153,"s":"baseline"},{"ppm":210.9,"v":0.0195,"s":"baseline"},{"ppm":210.6,"v":0.025,"s":"baseline"},{"ppm":210,"v":0.1,"s":"baseline"},{"ppm":208,"v":0.2,"s":"baseline"},{"ppm":206.5,"v":0.05,"s":"baseline"},{"ppm":206.2,"v":0.021,"s":"baseline"},{"ppm":205.9,"v":0.0134,"s":"baseline"},{"ppm":205.6,"v":0.0085,"s":"baseline"},{"ppm":205.1,"v":0.0039,"s":"baseline"},{"ppm":204.6,"v":0.0018,"s":"baseline"},{"ppm":204.2,"v":0.0012,"s":"baseline"},{"ppm":203.8,"v":0.0008,"s":"baseline"},{"ppm":203.4,"v":0.0005,"s":"baseline"},{"ppm":202.9,"v":0.0004,"s":"baseline"},{"ppm":202.5,"v":0.0002,"s":"baseline"},{"ppm":202.1,"v":0.0003,"s":"baseline"},{"ppm":201.7,"v":0,"s":"baseline"},{"ppm":201.3,"v":0.0002,"s":"baseline"},{"ppm":200.9,"v":-0.0001,"s":"baseline"},{"ppm":200.5,"v":0.0001,"s":"baseline"},{"ppm":200.1,"v":-0.0002,"s":"baseline"},{"ppm":199.7,"v":0,"s":"baseline"},{"ppm":199.3,"v":-0.0003,"s":"baseline"},{"ppm":198.9,"v":0.0001,"s":"baseline"},{"ppm":198.5,"v":-0.0002,"s":"baseline"},{"ppm":198.1,"v":0.0003,"s":"baseline"},{"ppm":197.7,"v":-0.0001,"s":"baseline"},{"ppm":197.3,"v":0.0002,"s":"baseline"},{"ppm":196.9,"v":-0.0003,"s":"baseline"},{"ppm":196.5,"v":0,"s":"baseline"},{"ppm":196.1,"v":0.0002,"s":"baseline"},{"ppm":195.7,"v":-0.0002,"s":"baseline"},{"ppm":195.3,"v":0.0003,"s":"baseline"},{"ppm":194.9,"v":-0.0001,"s":"baseline"},{"ppm":194.5,"v":0.0001,"s":"baseline"},{"ppm":194.1,"v":-0.0003,"s":"baseline"},{"ppm":193.7,"v":0,"s":"baseline"},{"ppm":193.3,"v":0.0002,"s":"baseline"},{"ppm":192.9,"v":-0.0002,"s":"baseline"},{"ppm":192.5,"v":0.0001,"s":"baseline"},{"ppm":192.1,"v":-0.0001,"s":"baseline"},{"ppm":191.7,"v":0.0003,"s":"baseline"},{"ppm":191.3,"v":-0.0002,"s":"baseline"},{"ppm":190.9,"v":0,"s":"baseline"},{"ppm":190.5,"v":-0.0003,"s":"baseline"},{"ppm":190.1,"v":0.0001,"s":"baseline"},{"ppm":189.7,"v":-0.0002,"s":"baseline"},{"ppm":189.3,"v":-0.0004,"s":"baseline"},{"ppm":188.9,"v":-0.0001,"s":"baseline"},{"ppm":188.5,"v":0.0001,"s":"baseline"},{"ppm":188.1,"v":-0.0003,"s":"baseline"},{"ppm":187.7,"v":0,"s":"baseline"},{"ppm":187.3,"v":-0.0002,"s":"baseline"},{"ppm":186.9,"v":0.0001,"s":"baseline"},{"ppm":186.5,"v":0,"s":"baseline"},{"ppm":186.1,"v":0.0003,"s":"baseline"},{"ppm":185.7,"v":0.0001,"s":"baseline"},{"ppm":185.3,"v":0.0004,"s":"baseline"},{"ppm":184.9,"v":0.0002,"s":"baseline"},{"ppm":184.5,"v":0.0006,"s":"baseline"},{"ppm":184.1,"v":0.0005,"s":"baseline"},{"ppm":183.7,"v":0.0009,"s":"baseline"},{"ppm":183.3,"v":0.0012,"s":"baseline"},{"ppm":182.9,"v":0.001,"s":"baseline"},{"ppm":182.5,"v":0.0007,"s":"baseline"},{"ppm":182.1,"v":0.0005,"s":"baseline"},{"ppm":181.7,"v":0.0008,"s":"baseline"},{"ppm":181.3,"v":0.001,"s":"baseline"},{"ppm":180.9,"v":0.0006,"s":"baseline"},{"ppm":180.5,"v":0.0004,"s":"baseline"},{"ppm":180.1,"v":0.0007,"s":"baseline"},{"ppm":179.7,"v":0.0011,"s":"baseline"},{"ppm":179.3,"v":0.0009,"s":"baseline"},{"ppm":178.9,"v":0.0006,"s":"baseline"},{"ppm":178.5,"v":0.0005,"s":"baseline"},{"ppm":178.1,"v":0.0008,"s":"baseline"},{"ppm":177.7,"v":0.0004,"s":"baseline"},{"ppm":177.3,"v":0.0007,"s":"baseline"},{"ppm":176.9,"v":0.0009,"s":"baseline"},{"ppm":176.5,"v":0.0008,"s":"baseline"},{"ppm":176.1,"v":0.0012,"s":"baseline"},{"ppm":175.7,"v":0.001,"s":"baseline"},{"ppm":175.3,"v":0.0014,"s":"baseline"},{"ppm":174.9,"v":0.0018,"s":"baseline"},{"ppm":174.6,"v":0.0021,"s":"baseline"},{"ppm":174.2,"v":0.0025,"s":"baseline"},{"ppm":173.9,"v":0.0032,"s":"baseline"},{"ppm":173.6,"v":0.0055,"s":"baseline"},{"ppm":173.3,"v":0.0074,"s":"baseline"},{"ppm":173.1,"v":0.008,"s":"baseline"},{"ppm":172.8,"v":0.0068,"s":"baseline"},{"ppm":172.5,"v":0.0038,"s":"baseline"},{"ppm":172.2,"v":0.0022,"s":"baseline"},{"ppm":171.9,"v":0.0024,"s":"baseline"},{"ppm":171.6,"v":0.0055,"s":"baseline"},{"ppm":171.35,"v":0.0085,"s":"baseline"},{"ppm":171.2,"v":0.0088,"s":"baseline"},{"ppm":171,"v":0.0075,"s":"baseline"},{"ppm":170.7,"v":0.0045,"s":"baseline"},{"ppm":170.4,"v":0.0022,"s":"baseline"},{"ppm":170.1,"v":0.0012,"s":"baseline"},{"ppm":169.7,"v":0.0004,"s":"baseline"},{"ppm":169.3,"v":0.0001,"s":"baseline"},{"ppm":168.9,"v":-0.0001,"s":"baseline"},{"ppm":168.5,"v":0.0002,"s":"baseline"},{"ppm":168.1,"v":0.0004,"s":"baseline"},{"ppm":167.7,"v":0.0007,"s":"baseline"},{"ppm":167.3,"v":0.0006,"s":"baseline"},{"ppm":166.9,"v":0.0003,"s":"baseline"},{"ppm":166.5,"v":0.0005,"s":"baseline"},{"ppm":166.1,"v":0.0002,"s":"baseline"},{"ppm":165.7,"v":-0.0001,"s":"baseline"},{"ppm":165.3,"v":0.0001,"s":"baseline"},
{"ppm":220.4,"v":-0.0001,"s":"post-DCA"},{"ppm":219.9,"v":0.0002,"s":"post-DCA"},{"ppm":219.4,"v":0.0004,"s":"post-DCA"},{"ppm":218.9,"v":0,"s":"post-DCA"},{"ppm":218.4,"v":0.0003,"s":"post-DCA"},{"ppm":217.9,"v":-0.0002,"s":"post-DCA"},{"ppm":217.4,"v":0.0001,"s":"post-DCA"},{"ppm":216.9,"v":-0.0003,"s":"post-DCA"},{"ppm":216.4,"v":-0.0001,"s":"post-DCA"},{"ppm":215.9,"v":-0.0002,"s":"post-DCA"},{"ppm":215.4,"v":0,"s":"post-DCA"},{"ppm":214.9,"v":0.0002,"s":"post-DCA"},{"ppm":214.4,"v":0.0006,"s":"post-DCA"},{"ppm":213.9,"v":0.0011,"s":"post-DCA"},{"ppm":213.4,"v":0.0018,"s":"post-DCA"},{"ppm":213,"v":0.0026,"s":"post-DCA"},{"ppm":212.7,"v":0.0045,"s":"post-DCA"},{"ppm":212.5,"v":0.0057,"s":"post-DCA"},{"ppm":212.3,"v":0.0052,"s":"post-DCA"},{"ppm":212.1,"v":0.0045,"s":"post-DCA"},{"ppm":211.9,"v":0.0062,"s":"post-DCA"},{"ppm":211.6,"v":0.0097,"s":"post-DCA"},{"ppm":211.2,"v":0.015,"s":"post-DCA"},{"ppm":210.9,"v":0.019,"s":"post-DCA"},{"ppm":210.6,"v":0.025,"s":"post-DCA"},{"ppm":210,"v":0.1,"s":"post-DCA"},{"ppm":208,"v":0.2,"s":"post-DCA"},{"ppm":206.3,"v":0.05,"s":"post-DCA"},{"ppm":206,"v":0.019,"s":"post-DCA"},{"ppm":205.7,"v":0.012,"s":"post-DCA"},{"ppm":205.4,"v":0.0075,"s":"post-DCA"},{"ppm":204.9,"v":0.0035,"s":"post-DCA"},{"ppm":204.4,"v":0.0015,"s":"post-DCA"},{"ppm":204,"v":0.0008,"s":"post-DCA"},{"ppm":203.6,"v":0.0003,"s":"post-DCA"},{"ppm":203.2,"v":0.0001,"s":"post-DCA"},{"ppm":202.8,"v":-0.0001,"s":"post-DCA"},{"ppm":202.4,"v":-0.0003,"s":"post-DCA"},{"ppm":202,"v":-0.0004,"s":"post-DCA"},{"ppm":201.6,"v":-0.0001,"s":"post-DCA"},{"ppm":201.2,"v":-0.0003,"s":"post-DCA"},{"ppm":200.8,"v":0,"s":"post-DCA"},{"ppm":200.4,"v":-0.0002,"s":"post-DCA"},{"ppm":200,"v":0.0001,"s":"post-DCA"},{"ppm":199.6,"v":-0.0003,"s":"post-DCA"},{"ppm":199.2,"v":-0.0001,"s":"post-DCA"},{"ppm":198.8,"v":-0.0002,"s":"post-DCA"},{"ppm":198.4,"v":0,"s":"post-DCA"},{"ppm":198,"v":-0.0003,"s":"post-DCA"},{"ppm":197.6,"v":-0.0001,"s":"post-DCA"},{"ppm":197.2,"v":-0.0004,"s":"post-DCA"},{"ppm":196.8,"v":-0.0002,"s":"post-DCA"},{"ppm":196.4,"v":0,"s":"post-DCA"},{"ppm":196,"v":-0.0003,"s":"post-DCA"},{"ppm":195.6,"v":-0.0005,"s":"post-DCA"},{"ppm":195.2,"v":-0.0002,"s":"post-DCA"},{"ppm":194.8,"v":-0.0004,"s":"post-DCA"},{"ppm":194.4,"v":-0.0001,"s":"post-DCA"},{"ppm":194,"v":-0.0003,"s":"post-DCA"},{"ppm":193.6,"v":-0.0005,"s":"post-DCA"},{"ppm":193.2,"v":-0.0002,"s":"post-DCA"},{"ppm":192.8,"v":-0.0004,"s":"post-DCA"},{"ppm":192.4,"v":-0.0001,"s":"post-DCA"},{"ppm":192,"v":-0.0003,"s":"post-DCA"},{"ppm":191.6,"v":0,"s":"post-DCA"},{"ppm":191.2,"v":-0.0002,"s":"post-DCA"},{"ppm":190.8,"v":-0.0004,"s":"post-DCA"},{"ppm":190.4,"v":-0.0002,"s":"post-DCA"},{"ppm":190,"v":0,"s":"post-DCA"},{"ppm":189.6,"v":-0.0003,"s":"post-DCA"},{"ppm":189.2,"v":-0.0001,"s":"post-DCA"},{"ppm":188.8,"v":-0.0002,"s":"post-DCA"},{"ppm":188.4,"v":0,"s":"post-DCA"},{"ppm":188,"v":-0.0002,"s":"post-DCA"},{"ppm":187.6,"v":0.0001,"s":"post-DCA"},{"ppm":187.2,"v":-0.0001,"s":"post-DCA"},{"ppm":186.8,"v":0.0001,"s":"post-DCA"},{"ppm":186.4,"v":0,"s":"post-DCA"},{"ppm":186,"v":0.0002,"s":"post-DCA"},{"ppm":185.6,"v":0.0001,"s":"post-DCA"},{"ppm":185.2,"v":0.0003,"s":"post-DCA"},{"ppm":184.8,"v":0.0002,"s":"post-DCA"},{"ppm":184.4,"v":0.0004,"s":"post-DCA"},{"ppm":184,"v":0.0015,"s":"post-DCA"},{"ppm":183.7,"v":0.0035,"s":"post-DCA"},{"ppm":183.4,"v":0.0055,"s":"post-DCA"},{"ppm":183.1,"v":0.0063,"s":"post-DCA"},{"ppm":182.8,"v":0.0052,"s":"post-DCA"},{"ppm":182.5,"v":0.003,"s":"post-DCA"},{"ppm":182.2,"v":0.0016,"s":"post-DCA"},{"ppm":181.9,"v":0.0013,"s":"post-DCA"},{"ppm":181.5,"v":0.0015,"s":"post-DCA"},{"ppm":181.1,"v":0.0014,"s":"post-DCA"},{"ppm":180.7,"v":0.0017,"s":"post-DCA"},{"ppm":180.3,"v":0.0015,"s":"post-DCA"},{"ppm":179.9,"v":0.0019,"s":"post-DCA"},{"ppm":179.5,"v":0.0016,"s":"post-DCA"},{"ppm":179.1,"v":0.0014,"s":"post-DCA"},{"ppm":178.7,"v":0.001,"s":"post-DCA"},{"ppm":178.3,"v":0.0012,"s":"post-DCA"},{"ppm":177.9,"v":0.0016,"s":"post-DCA"},{"ppm":177.6,"v":0.003,"s":"post-DCA"},{"ppm":177.3,"v":0.0052,"s":"post-DCA"},{"ppm":177,"v":0.0066,"s":"post-DCA"},{"ppm":176.8,"v":0.0068,"s":"post-DCA"},{"ppm":176.6,"v":0.0062,"s":"post-DCA"},{"ppm":176.3,"v":0.004,"s":"post-DCA"},{"ppm":176,"v":0.0023,"s":"post-DCA"},{"ppm":175.7,"v":0.002,"s":"post-DCA"},{"ppm":175.4,"v":0.0035,"s":"post-DCA"},{"ppm":175.1,"v":0.009,"s":"post-DCA"},{"ppm":174.9,"v":0.016,"s":"post-DCA"},{"ppm":174.7,"v":0.0194,"s":"post-DCA"},{"ppm":174.5,"v":0.018,"s":"post-DCA"},{"ppm":174.3,"v":0.011,"s":"post-DCA"},{"ppm":174.1,"v":0.005,"s":"post-DCA"},{"ppm":173.9,"v":0.0034,"s":"post-DCA"},{"ppm":173.6,"v":0.0055,"s":"post-DCA"},{"ppm":173.3,"v":0.0078,"s":"post-DCA"},{"ppm":173.1,"v":0.0085,"s":"post-DCA"},{"ppm":172.8,"v":0.0072,"s":"post-DCA"},{"ppm":172.5,"v":0.0042,"s":"post-DCA"},{"ppm":172.2,"v":0.002,"s":"post-DCA"},{"ppm":171.9,"v":0.0022,"s":"post-DCA"},{"ppm":171.6,"v":0.005,"s":"post-DCA"},{"ppm":171.35,"v":0.0079,"s":"post-DCA"},{"ppm":171.2,"v":0.0081,"s":"post-DCA"},{"ppm":171,"v":0.007,"s":"post-DCA"},{"ppm":170.7,"v":0.0042,"s":"post-DCA"},{"ppm":170.4,"v":0.0018,"s":"post-DCA"},{"ppm":170.1,"v":0.0008,"s":"post-DCA"},{"ppm":169.7,"v":0.0001,"s":"post-DCA"},{"ppm":169.3,"v":-0.0002,"s":"post-DCA"},{"ppm":168.9,"v":-0.0004,"s":"post-DCA"},{"ppm":168.5,"v":-0.0001,"s":"post-DCA"},{"ppm":168.1,"v":0.0001,"s":"post-DCA"},{"ppm":167.7,"v":0.0003,"s":"post-DCA"},{"ppm":167.3,"v":0.0001,"s":"post-DCA"},{"ppm":166.9,"v":-0.0002,"s":"post-DCA"},{"ppm":166.5,"v":-0.0004,"s":"post-DCA"},{"ppm":166.1,"v":-0.0001,"s":"post-DCA"},{"ppm":165.7,"v":-0.0003,"s":"post-DCA"},{"ppm":165.3,"v":-0.0001,"s":"post-DCA"}],
 "Dt": [{"ppm":214.9,"v":0.0055,"t":"1"},{"ppm":183.2,"v":0.0071,"t":"2"},{"ppm":177.4,"v":0.0075,"t":"3"},{"ppm":173.1,"v":0.0184,"t":"4"},{"ppm":169.7,"v":0.0111,"t":"5"}],
 "Dl": [{"ppm":170.4,"v":0.0104,"ppm2":172.6,"v2":0.009},{"ppm":170.3,"v":0.0104,"ppm2":171.0,"v2":0.0089}],
 "Dh": [{"ppm":196.2,"v":0.0175,"t":"Fasted"}]
},
"columns": 2,
"spacing": {"row": 61, "column": 62},
"bounds": "flush",
"resolve": {"scale": {"x": "independent", "y": "independent", "color": "independent", "strokeDash": "independent"}},
"concat": [
  {"width": 375, "height": 262,
   "title": {"text": "A", "dx": -57, "offset": -4},
   "layer": [
    {"data": {"values": [{}]}, "mark": {"type": "rect", "fillOpacity": 0, "stroke": "#888", "strokeWidth": 1.5, "strokeDash": [2, 3]},
     "encoding": {"x": {"datum": 216.2, "type": "quantitative", "scale": {"domain": [35, 224], "reverse": true, "nice": false, "zero": false}, "axis": null}, "x2": {"datum": 164.6}, "y": {"datum": -0.0033, "type": "quantitative", "scale": {"domain": [-0.0052, 0.12], "nice": false, "zero": false}, "axis": null}, "y2": {"datum": 0.0367}}},
    {"data": {"name": "A"}, "mark": {"type": "line", "clip": true, "strokeWidth": 1.6, "color": "#4657B5"},
     "encoding": {"x": {"field": "ppm", "type": "quantitative", "scale": {"domain": [35, 224], "reverse": true, "nice": false, "zero": false}, "axis": {"orient": "bottom", "values": [200, 150, 100, 50], "title": "ppm", "titleX": 196, "titleY": 28, "titleBaseline": "alphabetic"}},
      "y": {"field": "v", "type": "quantitative", "scale": {"domain": [-0.0052, 0.12], "nice": false, "zero": false}, "axis": {"orient": "left", "values": [0, 0.02, 0.04, 0.06, 0.08, 0.1, 0.12], "format": ".4~g", "title": null}}}},
    {"data": {"name": "At"}, "mark": {"type": "text"},
     "encoding": {"x": {"field": "ppm", "type": "quantitative", "scale": {"domain": [35, 224], "reverse": true, "nice": false, "zero": false}, "axis": {"orient": "top", "values": [200, 150, 100, 50], "labels": false, "title": null}},
      "y": {"field": "v", "type": "quantitative", "scale": {"domain": [-0.0052, 0.12], "nice": false, "zero": false}, "axis": {"orient": "right", "values": [0, 0.02, 0.04, 0.06, 0.08, 0.1, 0.12], "labels": false, "title": null}}, "text": {"field": "t"}}},
    {"data": {"name": "Ab"}, "mark": {"type": "text", "fontWeight": "bold", "fontSize": 16, "align": "left"},
     "encoding": {"x": {"field": "ppm", "type": "quantitative", "scale": {"domain": [35, 224], "reverse": true, "nice": false, "zero": false}, "axis": null},
      "y": {"field": "v", "type": "quantitative", "scale": {"domain": [-0.0052, 0.12], "nice": false, "zero": false}, "axis": null}, "text": {"field": "t"}}}
   ],
   "resolve": {"axis": {"x": "independent", "y": "independent"}}},
  {"width": 375, "height": 262,
   "title": {"text": "B", "dx": -32, "offset": 0},
   "layer": [
    {"data": {"name": "B"}, "mark": {"type": "line", "clip": true, "strokeWidth": 1.8},
     "encoding": {"x": {"field": "ppm", "type": "quantitative", "scale": {"domain": [165.3, 220.9], "reverse": true, "nice": false, "zero": false}, "axis": {"orient": "bottom", "values": [220, 210, 200, 190, 180, 170], "title": "ppm", "titleX": 243, "titleY": 30, "titleBaseline": "alphabetic"}},
      "y": {"field": "v", "type": "quantitative", "scale": {"domain": [-0.0025, 0.036], "nice": false, "zero": false}, "axis": {"orient": "left", "values": [0, 0.009, 0.018, 0.027, 0.036], "format": ".4~g", "title": null}},
      "color": {"field": "s", "type": "nominal", "scale": {"domain": ["baseline", "post-DCA"], "range": ["#2B3A9C", "#E8432D"]}, "legend": {"legendX": 125, "legendY": 38, "title": null}},
      "strokeDash": {"field": "s", "type": "nominal", "scale": {"domain": ["baseline", "post-DCA"], "range": [[1, 0], [4, 2.5]]}, "legend": {"legendX": 125, "legendY": 38, "title": null}}}},
    {"data": {"name": "Bl"}, "mark": {"type": "rule", "color": "#333", "strokeWidth": 1.2},
     "encoding": {"x": {"field": "ppm", "type": "quantitative", "scale": {"domain": [165.3, 220.9], "reverse": true, "nice": false, "zero": false}, "axis": null}, "x2": {"field": "ppm2"},
      "y": {"field": "v", "type": "quantitative", "scale": {"domain": [-0.0025, 0.036], "nice": false, "zero": false}, "axis": null}, "y2": {"field": "v2"}}},
    {"data": {"name": "Bt"}, "mark": {"type": "text"},
     "encoding": {"x": {"field": "ppm", "type": "quantitative", "scale": {"domain": [165.3, 220.9], "reverse": true, "nice": false, "zero": false}, "axis": {"orient": "top", "values": [220, 210, 200, 190, 180, 170], "labels": false, "title": null}},
      "y": {"field": "v", "type": "quantitative", "scale": {"domain": [-0.0025, 0.036], "nice": false, "zero": false}, "axis": {"orient": "right", "values": [0, 0.009, 0.018, 0.027, 0.036], "labels": false, "title": null}}, "text": {"field": "t"}}},
    {"data": {"name": "Bh"}, "mark": {"type": "text", "fontWeight": "bold", "align": "left"},
     "encoding": {"x": {"field": "ppm", "type": "quantitative", "scale": {"domain": [165.3, 220.9], "reverse": true, "nice": false, "zero": false}, "axis": null},
      "y": {"field": "v", "type": "quantitative", "scale": {"domain": [-0.0025, 0.036], "nice": false, "zero": false}, "axis": null}, "text": {"field": "t"}}}
   ],
   "resolve": {"axis": {"x": "independent", "y": "independent"}}},
  {"width": 375, "height": 262,
   "title": {"text": "C", "dx": -53, "offset": 0},
   "layer": [
    {"data": {"name": "C"}, "mark": {"type": "line", "clip": true, "strokeWidth": 1.8},
     "encoding": {"x": {"field": "ppm", "type": "quantitative", "scale": {"domain": [165.3, 220], "reverse": true, "nice": false, "zero": false}, "axis": {"orient": "bottom", "values": [220, 210, 200, 190, 180, 170], "title": "ppm", "titleX": 245, "titleY": 33, "titleBaseline": "alphabetic"}},
      "y": {"field": "v", "type": "quantitative", "scale": {"domain": [-0.003, 0.03], "nice": false, "zero": false}, "axis": {"orient": "left", "values": [0, 0.005, 0.01, 0.015, 0.02, 0.025, 0.03], "format": ".4~g", "title": null}},
      "color": {"field": "s", "type": "nominal", "scale": {"domain": ["baseline", "post-DOB"], "range": ["#2B3A9C", "#E8432D"]}, "legend": {"legendX": 127, "legendY": 23, "title": null}},
      "strokeDash": {"field": "s", "type": "nominal", "scale": {"domain": ["baseline", "post-DOB"], "range": [[1, 0], [4, 2.5]]}, "legend": {"legendX": 127, "legendY": 23, "title": null}}}},
    {"data": {"name": "Cl"}, "mark": {"type": "rule", "color": "#333", "strokeWidth": 1.2},
     "encoding": {"x": {"field": "ppm", "type": "quantitative", "scale": {"domain": [165.3, 220], "reverse": true, "nice": false, "zero": false}, "axis": null}, "x2": {"field": "ppm2"},
      "y": {"field": "v", "type": "quantitative", "scale": {"domain": [-0.003, 0.03], "nice": false, "zero": false}, "axis": null}, "y2": {"field": "v2"}}},
    {"data": {"name": "Ca"}, "mark": {"type": "rule", "color": "#666", "strokeWidth": 1.4, "strokeDash": [4, 3]},
     "encoding": {"x": {"field": "ppm", "type": "quantitative", "scale": {"domain": [165.3, 220], "reverse": true, "nice": false, "zero": false}, "axis": null}, "x2": {"field": "ppm2"},
      "y": {"field": "v", "type": "quantitative", "scale": {"domain": [-0.003, 0.03], "nice": false, "zero": false}, "axis": null}, "y2": {"field": "v2"}}},
    {"data": {"values": [{}]}, "mark": {"type": "point", "shape": "M-1,-0.75L0,0L-1,0.75", "filled": false, "stroke": "#666", "strokeWidth": 1.4, "size": 120, "angle": 90, "opacity": 1},
     "encoding": {"x": {"datum": 179.9, "type": "quantitative", "scale": {"domain": [165.3, 220], "reverse": true, "nice": false, "zero": false}, "axis": null}, "y": {"datum": 0.0055, "type": "quantitative", "scale": {"domain": [-0.003, 0.03], "nice": false, "zero": false}, "axis": null}}},
    {"data": {"values": [{}]}, "mark": {"type": "point", "shape": "M-1,-0.75L0,0L-1,0.75", "filled": false, "stroke": "#666", "strokeWidth": 1.4, "size": 120, "angle": 28.6, "opacity": 1},
     "encoding": {"x": {"datum": 186.8, "type": "quantitative", "scale": {"domain": [165.3, 220], "reverse": true, "nice": false, "zero": false}, "axis": null}, "y": {"datum": 0.0031, "type": "quantitative", "scale": {"domain": [-0.003, 0.03], "nice": false, "zero": false}, "axis": null}}},
    {"data": {"name": "Ct"}, "mark": {"type": "text"},
     "encoding": {"x": {"field": "ppm", "type": "quantitative", "scale": {"domain": [165.3, 220], "reverse": true, "nice": false, "zero": false}, "axis": {"orient": "top", "values": [220, 210, 200, 190, 180, 170], "labels": false, "title": null}},
      "y": {"field": "v", "type": "quantitative", "scale": {"domain": [-0.003, 0.03], "nice": false, "zero": false}, "axis": {"orient": "right", "values": [0, 0.005, 0.01, 0.015, 0.02, 0.025, 0.03], "labels": false, "title": null}}, "text": {"field": "t"}}}
   ],
   "resolve": {"axis": {"x": "independent", "y": "independent"}}},
  {"width": 375, "height": 262,
   "title": {"text": "D", "dx": -34, "offset": 1},
   "layer": [
    {"data": {"name": "D"}, "mark": {"type": "line", "clip": true, "strokeWidth": 1.8},
     "encoding": {"x": {"field": "ppm", "type": "quantitative", "scale": {"domain": [165.3, 220.4], "reverse": true, "nice": false, "zero": false}, "axis": {"orient": "bottom", "values": [220, 210, 200, 190, 180, 170], "title": "ppm", "titleX": 239, "titleY": 34, "titleBaseline": "alphabetic"}},
      "y": {"field": "v", "type": "quantitative", "scale": {"domain": [-0.0012, 0.02], "nice": false, "zero": false}, "axis": {"orient": "left", "values": [0, 0.005, 0.01, 0.015, 0.02], "format": ".4~g", "title": null}},
      "color": {"field": "s", "type": "nominal", "scale": {"domain": ["baseline", "post-DCA"], "range": ["#2B3A9C", "#E8432D"]}, "legend": {"legendX": 123, "legendY": 34, "title": null}},
      "strokeDash": {"field": "s", "type": "nominal", "scale": {"domain": ["baseline", "post-DCA"], "range": [[1, 0], [4, 2.5]]}, "legend": {"legendX": 123, "legendY": 34, "title": null}}}},
    {"data": {"name": "Dl"}, "mark": {"type": "rule", "color": "#333", "strokeWidth": 1.2},
     "encoding": {"x": {"field": "ppm", "type": "quantitative", "scale": {"domain": [165.3, 220.4], "reverse": true, "nice": false, "zero": false}, "axis": null}, "x2": {"field": "ppm2"},
      "y": {"field": "v", "type": "quantitative", "scale": {"domain": [-0.0012, 0.02], "nice": false, "zero": false}, "axis": null}, "y2": {"field": "v2"}}},
    {"data": {"name": "Dt"}, "mark": {"type": "text"},
     "encoding": {"x": {"field": "ppm", "type": "quantitative", "scale": {"domain": [165.3, 220.4], "reverse": true, "nice": false, "zero": false}, "axis": {"orient": "top", "values": [220, 210, 200, 190, 180, 170], "labels": false, "title": null}},
      "y": {"field": "v", "type": "quantitative", "scale": {"domain": [-0.0012, 0.02], "nice": false, "zero": false}, "axis": {"orient": "right", "values": [0, 0.005, 0.01, 0.015, 0.02], "labels": false, "title": null}}, "text": {"field": "t"}}},
    {"data": {"name": "Dh"}, "mark": {"type": "text", "fontWeight": "bold", "align": "left"},
     "encoding": {"x": {"field": "ppm", "type": "quantitative", "scale": {"domain": [165.3, 220.4], "reverse": true, "nice": false, "zero": false}, "axis": null},
      "y": {"field": "v", "type": "quantitative", "scale": {"domain": [-0.0012, 0.02], "nice": false, "zero": false}, "axis": null}, "text": {"field": "t"}}}
   ],
   "resolve": {"axis": {"x": "independent", "y": "independent"}}}
]
}
